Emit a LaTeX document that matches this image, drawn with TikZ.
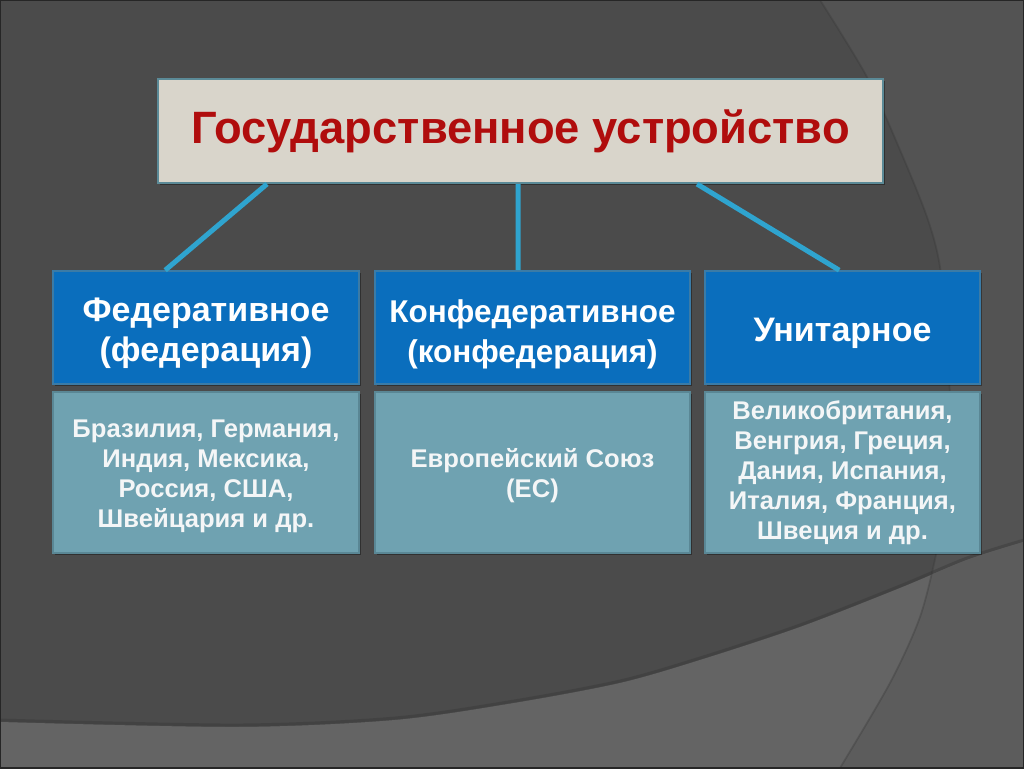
\documentclass[tikz,border=0pt]{standalone}
\usepackage{fontspec}
\setmainfont{Liberation Sans}
\usetikzlibrary{shadows}
\definecolor{bgbase}{HTML}{4B4B4B}
\definecolor{arcfill}{HTML}{535353}
\definecolor{bandfill}{HTML}{646464}
\definecolor{bandarc}{HTML}{5C5C5C}
\definecolor{titlefill}{HTML}{D9D5CB}
\definecolor{titleborder}{HTML}{5B8A97}
\definecolor{titletext}{HTML}{B00D0D}
\definecolor{bluefill}{HTML}{0A6EBD}
\definecolor{blueborder}{HTML}{3B7BA6}
\definecolor{lightfill}{HTML}{6FA2B1}
\definecolor{lightborder}{HTML}{5A8795}
\definecolor{connc}{HTML}{2FA4CF}
\definecolor{lighttext}{HTML}{F4F6F7}
\newcommand{\headlift}{\rule{0pt}{27pt}}
\newcommand{\listlift}{\rule{0pt}{19pt}}
\tikzset{
  boxshadow/.style={drop shadow={shadow xshift=1.2pt,shadow yshift=-1.5pt,opacity=0.35,fill=black}},
  titlebox/.style={draw=titleborder,line width=1.5pt,fill=titlefill,boxshadow,
    minimum width=543.75pt,minimum height=78pt,inner sep=0pt,
    font=\fontsize{34}{40}\selectfont\bfseries,text=titletext},
  headbox/.style={draw=blueborder,line width=1.2pt,fill=bluefill,boxshadow,
    minimum height=84.75pt,inner sep=0pt,align=center,text=white,
    font=\fontsize{25.5}{30}\selectfont\bfseries},
  listbox/.style={draw=lightborder,line width=1.2pt,fill=lightfill,boxshadow,
    minimum height=120.75pt,inner sep=0pt,align=center,text=lighttext,
    font=\fontsize{19.2}{22.5}\selectfont\bfseries},
  conn/.style={draw=connc,line width=3.75pt}
}
\begin{document}
\begin{tikzpicture}[x=0.75pt,y=-0.75pt]
\useasboundingbox (0,0) rectangle (1024,768);
% background
\fill[bgbase] (0,0) rectangle (1024,768);
\fill[arcfill] (820,0) plot[smooth] coordinates {(820,0) (867,77) (900,150) (927,217) (940,267) (948,350) (950,430) (945,500) (937,550) (920,617) (890,683) (840,768)} -- (1024,768) -- (1024,0) -- cycle;
\fill[bandfill] (0,722) plot[smooth] coordinates {(0,722) (237,727) (395,720) (514,703) (620,683) (700,660) (800,627) (900,588) (967,560) (1024,542)} -- (1024,768) -- (0,768) -- cycle;
\begin{scope}
\clip (0,722) plot[smooth] coordinates {(0,722) (237,727) (395,720) (514,703) (620,683) (700,660) (800,627) (900,588) (967,560) (1024,542)} -- (1024,768) -- (0,768) -- cycle;
\fill[bandarc] (820,0) plot[smooth] coordinates {(820,0) (867,77) (900,150) (927,217) (940,267) (948,350) (950,430) (945,500) (937,550) (920,617) (890,683) (840,768)} -- (1024,768) -- (1024,0) -- cycle;
\end{scope}
\draw[black!80,opacity=0.35,line width=2.2pt] plot[smooth] coordinates {(0,720) (237,725) (395,718) (514,701) (620,681) (700,658) (800,625) (900,586) (967,558) (1024,540)};
\draw[black!80,opacity=0.3,line width=1.3pt] plot[smooth] coordinates {(820,0) (867,77) (900,150) (927,217) (940,267) (948,350) (950,430) (945,500) (937,550) (920,617) (890,683) (840,768)};
\draw[black!85,line width=1.5pt] (0,0) rectangle (1024,768);
% nodes
\node[titlebox] (title) at (520.5,131) {Государственное устройство};
\node[headbox,minimum width=229.5pt] (fed) at (206,327.5) {\headlift Федеративное\\(федерация)};
\node[headbox,minimum width=236.25pt,font=\fontsize{23.6}{30}\selectfont\bfseries] (conf) at (532.5,327.5) {\headlift Конфедеративное\\(конфедерация)};
\node[headbox,minimum width=206.25pt] (unit) at (842.5,327.5) {\headlift Унитарное};
\node[listbox,minimum width=229.5pt] (fedlist) at (206,472.5) {\listlift Бразилия, Германия,\\Индия, Мексика,\\Россия, США,\\Швейцария и др.};
\node[listbox,minimum width=236.25pt] (conflist) at (532.5,472.5) {\listlift Европейский Союз\\(ЕС)};
\node[listbox,minimum width=206.25pt] (unitlist) at (842.5,472.5) {Великобритания,\\Венгрия, Греция,\\Дания, Испания,\\Италия, Франция,\\Швеция и др.};
% connectors
\draw[conn] ([xshift=82.5pt]title.south west) -- ([xshift=84.75pt]fed.north west);
\draw[conn] ([xshift=270.75pt]title.south west) -- ([xshift=108pt]conf.north west);
\draw[conn] ([xshift=405pt]title.south west) -- ([xshift=101.25pt]unit.north west);
\end{tikzpicture}
\end{document}
